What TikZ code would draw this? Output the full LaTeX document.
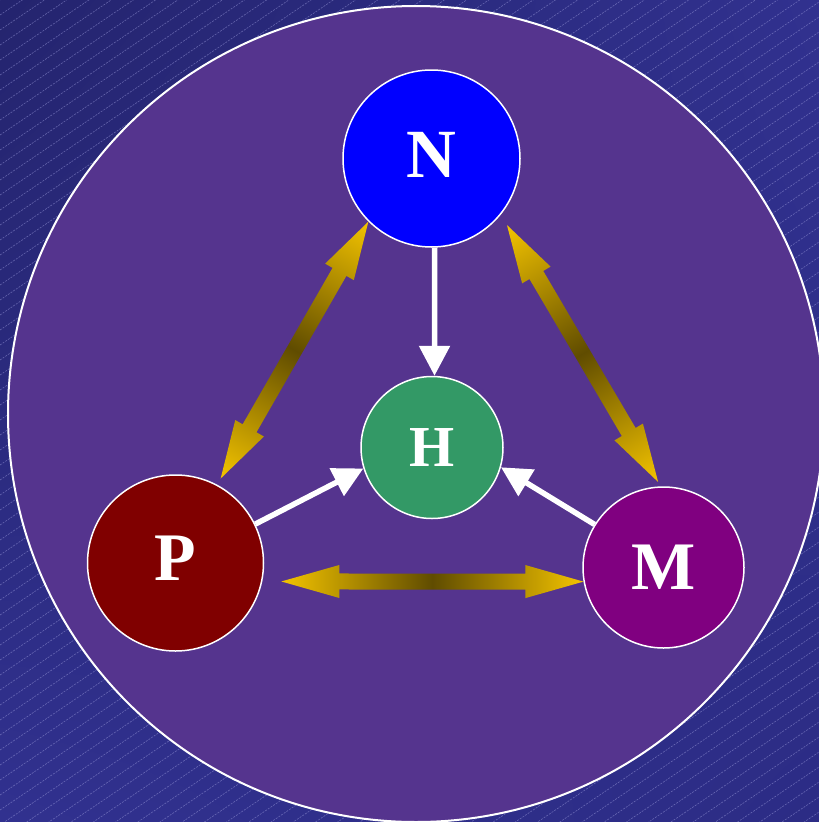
\documentclass[tikz,border=0pt]{standalone}
\usepackage{fontspec}
\setmainfont{Liberation Serif}
\usetikzlibrary{arrows.meta,calc,shadings}
\definecolor{bgdark}{RGB}{36,36,110}
\definecolor{bglight}{RGB}{49,49,143}
\definecolor{bgmid}{RGB}{44,44,133}
\definecolor{stripe}{RGB}{150,150,215}
\definecolor{worldfill}{RGB}{85,52,142}
\definecolor{gold}{RGB}{244,196,0}
\definecolor{golddark}{RGB}{96,76,0}
\definecolor{nblue}{RGB}{0,0,255}
\definecolor{hgreen}{RGB}{51,153,102}
\definecolor{pred}{RGB}{128,0,0}
\definecolor{mpurple}{RGB}{128,0,128}
\makeatletter
\newcommand\goldarrow[2]{%
  \pgfpointdiff{\pgfpointanchor{#1}{center}}{\pgfpointanchor{#2}{center}}%
  \pgfgetlastxy{\ga@dx}{\ga@dy}%
  \pgfmathveclen{\ga@dx}{\ga@dy}\let\ga@len\pgfmathresult
  \pgfmathatantwo{\ga@dy}{\ga@dx}\let\ga@ang\pgfmathresult
  \pgfmathsetmacro\ga@b{\ga@len-58}%
  \begin{scope}[transform canvas={shift={(#1)}, rotate=\ga@ang}]
    \shade[left color=gold, right color=gold, middle color=golddark]
      (0pt,0pt) -- (58pt,16.5pt) -- (58pt,8pt) -- (\ga@b pt,8pt) -- (\ga@b pt,16.5pt)
      -- (\ga@len pt,0pt) -- (\ga@b pt,-16.5pt) -- (\ga@b pt,-8pt) -- (58pt,-8pt)
      -- (58pt,-16.5pt) -- cycle;
  \end{scope}%
}
\makeatother
\tikzset{
  ball/.style={circle, draw=white, line width=1.5pt, inner sep=0pt, text=white},
  whitearrow/.style={draw=white, line width=5.5pt, -{Triangle[length=30pt,width=30pt]}},
  stripeline/.style={draw=stripe, line width=0.6pt, opacity=0.55, dash pattern=on 2pt off 1.2pt},
}
\begin{document}
\begin{tikzpicture}[x=1pt,y=-1pt]
\useasboundingbox (0,0) rectangle (819,822);
% background
\shade[upper left=bgdark, upper right=bglight, lower left=bglight, lower right=bgmid]
  (0,0) rectangle (819,822);
\begin{scope}
  \clip (0,0) rectangle (819,822);
  \foreach \b in {0,15,...,1395}
    \draw[stripeline] (0,\b) -- (819,\b-553);
\end{scope}
% big circle
\node[circle, draw=white, line width=2pt, fill=worldfill, inner sep=0pt, minimum size=816pt] (world) at (416,414) {};
% nodes
\node[ball, fill=nblue, minimum size=177pt, font=\bfseries\fontsize{69}{69}\selectfont, text depth=8pt] (N) at (431.5,158.5) {N};
\node[ball, fill=hgreen, minimum size=142pt, font=\bfseries\fontsize{58}{58}\selectfont] (H) at (432,447.5) {H};
\node[ball, fill=pred, minimum size=176pt, font=\bfseries\fontsize{68}{68}\selectfont, text depth=10pt] (P) at (175.5,563) {P};
\node[ball, fill=mpurple, minimum size=161pt, font=\bfseries\fontsize{68}{68}\selectfont] (M) at (663.5,567.5) {M};
% white arrows
\draw[whitearrow] (N.272) -- (H.88);
\draw[whitearrow] (P.26) -- (H.197);
\draw[whitearrow] (M.148) -- (H.-16);
% gold double arrows
\coordinate (np-n) at (N.225);
\coordinate (np-p) at ($(P.62)!7pt!(N.225)$);
\coordinate (nm-n) at ($(N.-39)!12pt!(M.92)$);
\coordinate (nm-m) at ($(M.92)!5pt!(N.-39)$);
\coordinate (pm-p) at ($(P.-12)!19pt!(M.190)$);
\coordinate (pm-m) at (M.190);
\goldarrow{np-n}{np-p}
\goldarrow{nm-n}{nm-m}
\goldarrow{pm-p}{pm-m}
\end{tikzpicture}
\end{document}
